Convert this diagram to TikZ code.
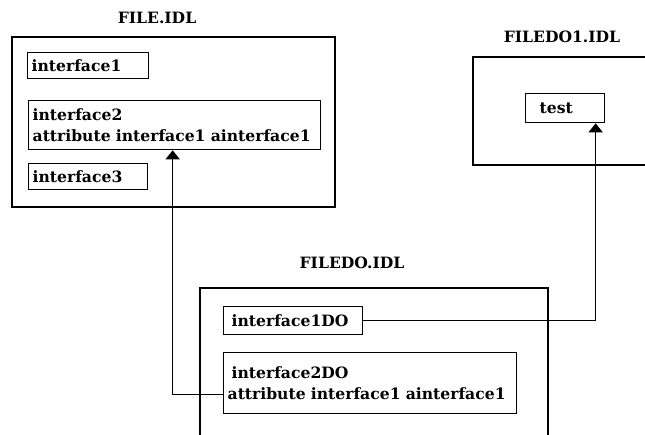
\documentclass[tikz,border=0pt]{standalone}
\usepackage{fontspec}
\setmainfont{DejaVu Serif}
\usetikzlibrary{arrows.meta}
\begin{document}
\begin{tikzpicture}[x=1pt,y=-1pt,
  line width=1.3pt,
  every node/.style={font=\fontsize{15.6}{22}\selectfont\bfseries},
  frame/.style={draw},
  item/.style={draw, inner xsep=4pt, inner ysep=0pt, align=left, anchor=north west},
  title/.style={inner sep=0pt},
  arr/.style={-{Triangle[width=14pt,length=9pt]}}]
\useasboundingbox (0,0) rectangle (645,434);
\clip (0,0) rectangle (645,434);

% file containers
\draw[frame] (12,37) rectangle (335,207);
\draw[frame] (473,57) rectangle (660,165);
\draw[frame] (200,288) rectangle (548,450);

% titles
\node[title] (tfile)   at (157,18)  {FILE.IDL};
\node[title] (tfiledo1) at (562,37) {FILEDO1.IDL};
\node[title] (tfiledo)  at (352,263) {FILEDO.IDL};

% FILE.IDL contents
\node[item, minimum width=121pt, minimum height=26pt, text width=113pt] (i1) at (27,52) {interface1};
\node[item, minimum width=292pt, minimum height=49pt, text width=284pt] (i2) at (28,100)
  {\mbox{interface2}\\[-1pt]\mbox{attribute interface1 ainterface1}};
\node[item, minimum width=119pt, minimum height=26pt, text width=111pt] (i3) at (28,163) {interface3};

% FILEDO1.IDL contents
\node[item, inner xsep=14pt, minimum width=79pt, minimum height=29pt, text width=51pt] (test) at (525,93) {test};

% FILEDO.IDL contents
\node[item, inner xsep=8pt, minimum width=139pt, minimum height=28pt, text width=123pt] (i1do) at (223,306) {interface1DO};
\node[item, inner xsep=4pt, minimum width=293pt, minimum height=61pt, text width=285pt] (i2do) at (223,352)
  {\mbox{\hspace*{4pt}interface2DO}\\[-1pt]\mbox{attribute interface1 ainterface1}};

% references between files
\coordinate (testin) at ([xshift=30.5pt]test.south);
\draw[arr] ([yshift=-11.5pt]i2do.west) -| ([xshift=-2pt]i2.south);
\draw[arr] (i1do.east) -| (testin);
\end{tikzpicture}
\end{document}
